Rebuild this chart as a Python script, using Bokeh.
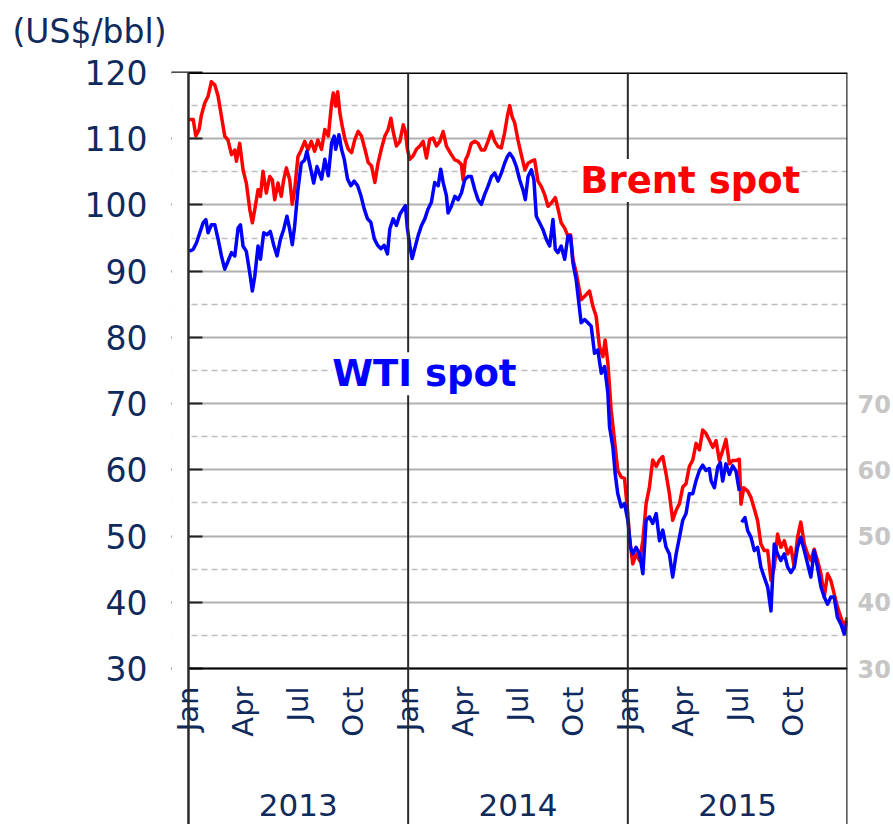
import math
from bokeh.plotting import figure
from bokeh.models import LinearAxis, FixedTicker, Span, Label, Range1d, BoxAnnotation
from bokeh.embed import file_html
from bokeh.resources import INLINE

# time in months since Jan 2013
brent_t = [0.04,0.26,0.40,0.58,0.71,0.89,1.07,1.25,1.44,1.62,1.80,1.98,2.16,2.35,2.53,2.62,2.80,2.98,3.16,3.35,3.49,3.62,3.80,3.93,4.07,4.25,4.44,4.58,4.71,4.89,5.07,5.20,5.35,5.53,5.67,5.80,5.98,6.16,6.35,6.53,6.71,6.89,7.07,
           7.27,7.45,7.64,7.82,7.91,8.04,8.15,8.27,8.40,8.55,8.73,8.91,9.09,9.27,9.45,9.64,9.82,10.0,10.18,10.36,10.55,10.73,10.91,11.06,11.18,11.36,11.55,11.73,11.85,11.96,12.09,12.27,12.45,12.64,12.82,13.0,13.18,13.36,13.55,13.73,13.91,14.09,
           14.36,14.55,14.73,14.91,15.0,15.13,15.27,15.45,15.64,15.82,16.0,16.18,16.36,16.55,16.73,16.91,17.09,17.27,17.42,17.55,17.67,17.82,18.0,18.18,18.38,18.55,18.73,18.91,19.09,19.27,19.45,19.64,19.82,20.04,20.18,20.36,20.55,20.73,20.87,21.0,21.18,
           21.45,21.64,21.91,22.09,22.27,22.45,22.64,22.76,22.91,23.09,23.27,23.45,23.64,23.82,24.0,24.09,24.27,24.45,24.64,24.82,25.0,25.18,25.36,25.55,25.73,25.91,26.09,26.27,26.45,26.64,26.82,27.0,27.18,27.36,27.55,27.73,27.91,28.09,28.27,28.45,
           28.64,28.82,29.0,29.18,29.36,29.55,29.73,29.91,30.09,30.18,30.33,30.55,30.73,30.91,31.09,31.27,31.45,31.64,31.82,32.0,32.18,32.36,32.55,32.73,32.91,33.09,33.27,33.45,33.64,33.82,34.0,34.18,34.36,34.55,34.73,34.91,35.09,35.27,35.45,35.64,35.82,35.98]
brent = [112.9,112.9,110.4,111.4,113.6,115.4,116.4,118.6,118.1,116.4,113.4,110.4,109.8,107.6,108.3,106.6,109.3,105.3,103.3,99.3,97.3,99.3,102.3,101.3,105.1,101.8,104.3,103.8,100.8,103.3,101.3,103.8,105.6,103.8,100.1,102.3,107.3,108.3,109.6,108.3,109.6,108.1,109.8,
         108.4,111.4,110.4,115.4,116.9,114.9,117.1,113.9,111.9,109.9,108.4,107.9,109.9,111.1,110.4,108.4,106.4,105.9,103.4,106.4,108.6,110.4,111.4,113.1,111.1,108.9,109.6,112.1,111.1,108.4,106.9,107.4,108.4,108.9,109.6,107.1,109.9,110.1,108.9,109.6,111.1,108.9,
         107.6,106.8,106.6,106.1,103.8,106.8,107.6,109.3,109.6,109.3,108.3,108.3,109.6,111.1,109.6,108.8,108.6,110.9,113.4,115.0,113.4,112.4,109.8,107.6,105.3,106.3,106.6,106.8,103.6,102.8,101.6,99.8,100.3,101.1,99.5,97.3,96.5,95.3,95.5,91.8,89.8,
         85.7,86.2,87.0,84.7,83.2,78.6,77.1,79.6,76.1,69.0,64.5,59.9,58.9,58.7,53.4,49.8,45.8,47.3,46.3,49.3,54.9,57.4,61.5,60.5,61.5,62.0,59.4,56.4,52.4,53.9,54.9,57.4,57.9,60.5,61.5,64.0,63.0,66.0,65.5,64.5,
         63.4,64.4,61.4,62.9,64.6,60.9,61.4,61.4,61.6,54.8,57.3,56.8,55.8,54.1,52.3,48.8,47.8,47.8,43.3,45.3,50.3,48.3,49.3,47.3,48.3,45.3,49.8,52.1,48.8,47.3,46.3,48.0,46.3,44.3,40.8,44.3,43.3,41.3,39.3,37.7,36.2,37.7]

wti_t = [0.04,0.26,0.44,0.62,0.80,0.95,1.07,1.25,1.44,1.62,1.80,1.98,2.16,2.35,2.53,2.71,2.84,2.98,3.16,3.35,3.49,3.62,3.80,3.93,4.11,4.29,4.47,4.65,4.84,5.02,5.20,5.38,5.53,5.67,5.80,5.98,6.16,6.35,6.47,6.65,6.84,7.02,
         7.27,7.45,7.64,7.82,7.96,8.04,8.22,8.36,8.51,8.69,8.87,9.05,9.24,9.42,9.60,9.78,9.96,10.15,10.33,10.51,10.69,10.87,11.0,11.18,11.36,11.55,11.73,11.85,11.96,12.09,12.22,12.36,12.55,12.73,12.91,13.09,13.27,13.45,13.64,13.78,13.91,14.09,
         14.18,14.36,14.55,14.73,14.91,15.09,15.27,15.45,15.64,15.82,16.0,16.18,16.36,16.55,16.73,16.91,17.09,17.27,17.42,17.55,17.73,17.91,18.09,18.27,18.40,18.55,18.73,18.87,19.0,19.18,19.36,19.55,19.73,19.91,20.04,20.18,20.36,20.55,20.73,20.87,21.0,21.18,
         21.45,21.64,21.82,22.0,22.18,22.36,22.55,22.73,22.91,23.0,23.18,23.31,23.45,23.64,23.82,24.0,24.15,24.27,24.45,24.64,24.82,25.0,25.18,25.36,25.55,25.73,25.91,26.09,26.27,26.45,26.64,26.82,27.0,27.18,27.36,27.55,27.73,27.91,28.09,28.27,28.45,
         28.55,28.73,28.91,29.05,29.18,29.36,29.55,29.73,29.91,30.09,30.15,30.22,30.40,30.55,30.73,30.91,31.09,31.27,31.45,31.64,31.82,32.0,32.18,32.36,32.55,32.73,32.91,33.09,33.27,33.45,33.64,33.82,34.0,34.18,34.36,34.55,34.73,34.91,35.09,35.27,35.45,35.64,35.82,35.98]
wti = [93.0,93.3,94.3,95.8,97.3,97.8,95.8,97.0,97.0,94.8,92.3,90.3,91.5,92.8,92.3,96.5,97.0,93.8,93.0,89.7,87.0,89.2,93.8,91.8,95.8,95.5,96.0,94.0,92.3,94.8,96.3,98.3,96.3,94.0,96.8,102.3,106.3,106.8,108.1,105.8,103.3,105.8,
       103.9,106.9,104.4,109.4,110.4,108.4,110.6,108.4,106.9,103.9,102.9,103.6,102.9,101.4,99.4,97.9,97.4,94.9,93.9,93.4,93.9,92.6,96.4,97.9,96.9,98.6,99.4,99.9,96.4,93.9,91.9,93.4,95.4,96.9,97.9,99.4,100.4,103.4,102.9,105.4,103.4,101.4,
       98.8,99.8,101.3,100.8,101.8,103.8,104.3,104.3,102.3,100.8,100.1,101.6,102.8,104.3,104.8,103.6,104.8,106.3,107.3,107.8,107.1,105.8,103.8,102.3,100.8,104.3,105.3,103.8,98.3,97.3,96.3,94.8,93.8,97.8,93.3,92.8,93.8,91.8,95.3,95.3,91.3,88.7,
       82.2,82.7,82.2,81.7,77.6,78.1,74.6,75.6,71.6,66.5,63.5,59.4,56.4,54.4,54.9,52.4,48.3,47.3,48.3,47.3,44.3,52.4,52.9,51.9,53.4,49.3,50.9,48.3,47.3,43.8,47.3,49.8,52.4,53.4,56.4,56.4,58.4,59.9,60.7,59.9,60.2,
       58.3,57.3,60.4,61.1,58.3,60.9,59.3,60.6,59.8,56.8,float("nan"),52.1,52.8,50.8,49.8,47.8,48.3,45.3,43.8,42.3,38.7,48.8,47.3,46.3,47.3,45.3,44.5,45.3,48.3,49.8,47.8,45.8,43.8,47.8,45.3,42.3,40.8,39.7,40.8,40.8,37.7,36.7,35.2,37.2]

y_ticks = [30, 40, 50, 60, 70, 80, 90, 100, 110, 120]
y_minor = [35, 45, 55, 65, 75, 85, 95, 105, 115]
right_ticks = [30, 40, 50, 60, 70]
month_ticks = [0, 3, 6, 9, 12, 15, 18, 21, 24, 27, 30, 33]
month_names = ["Jan", "Apr", "Jul", "Oct"] * 3
year_ticks = [6, 18, 30]
year_names = ["2013", "2014", "2015"]
year_bounds = [0, 12, 24, 36]
unit_text = "(US$/bbl)"

assert len(brent_t) == len(brent) and len(wti_t) == len(wti)

NAVY = "#0f2a5c"
FONT = "DejaVu Sans"
PAD = 17  # px of frame kept left of Jan 2013 so the first month label is not clipped
W, H = 893, 824
FRAME_TOP = 72
FRAME_LEFT = 188 - PAD

p = figure(width=W, height=H,
           x_range=Range1d(-PAD / (660 / 36), 36), y_range=Range1d(30 - 156 / (596 / 90), 120),
           output_backend="svg", toolbar_location=None, x_axis_type=None,
           min_border_left=FRAME_LEFT, min_border_right=45, min_border_top=FRAME_TOP, min_border_bottom=0)
p.outline_line_color = None
p.background_fill_color = "white"
p.border_fill_color = "white"

yax = p.yaxis[0]
yax.ticker = FixedTicker(ticks=y_ticks, minor_ticks=y_minor)
yax.axis_line_color = None
yax.major_tick_in = 14 + PAD
yax.major_tick_out = 0
yax.major_tick_line_color = "#222222"
yax.major_tick_line_width = 2
yax.minor_tick_in = 0
yax.minor_tick_out = 0
yax.major_label_standoff = 41 - PAD
yax.major_label_text_font = FONT
yax.major_label_text_font_size = "33px"
yax.major_label_text_color = NAVY

p.ygrid.grid_line_color = "#b0b0b0"
p.ygrid.grid_line_width = 2
p.ygrid.minor_grid_line_color = "#bdbdbd"
p.ygrid.minor_grid_line_width = 1.5
p.ygrid.minor_grid_line_dash = "6 4"

rax = LinearAxis(ticker=FixedTicker(ticks=right_ticks))
rax.axis_line_color = None
rax.major_tick_line_color = None
rax.major_tick_in = 0
rax.major_tick_out = 0
rax.minor_tick_line_color = None
rax.minor_tick_in = 0
rax.minor_tick_out = 0
rax.major_label_standoff = 10
rax.major_label_text_font = FONT
rax.major_label_text_font_size = "24px"
rax.major_label_text_font_style = "bold"
rax.major_label_text_color = "#c6c6c6"
p.add_layout(rax, "right")

max_ = LinearAxis(fixed_location=30, ticker=FixedTicker(ticks=month_ticks),
                  major_label_overrides={t: n for t, n in zip(month_ticks, month_names)})
max_.axis_line_color = None
max_.major_tick_line_color = None
max_.major_tick_out = 0
max_.minor_tick_line_color = None
max_.major_label_orientation = math.pi / 2
max_.major_label_standoff = 18
max_.major_label_text_font = FONT
max_.major_label_text_font_size = "29px"
max_.major_label_text_color = NAVY
p.add_layout(max_, "below")

yrax = LinearAxis(fixed_location=30, ticker=FixedTicker(ticks=year_ticks),
                  major_label_overrides={t: n for t, n in zip(year_ticks, year_names)})
yrax.axis_line_color = None
yrax.major_tick_line_color = None
yrax.major_tick_out = 0
yrax.minor_tick_line_color = None
yrax.major_label_standoff = 125
yrax.major_label_text_font = FONT
yrax.major_label_text_font_size = "31px"
yrax.major_label_text_color = NAVY
p.add_layout(yrax, "below")

p.add_layout(Span(location=120, dimension="width", line_color="black", line_width=3))
p.add_layout(Span(location=30, dimension="width", line_color="black", line_width=2))
# blank strip left of Jan 2013 inside the plotting area
p.add_layout(BoxAnnotation(right=0, bottom=29.4, fill_color="white", fill_alpha=1,
                           line_color=None))
for b in year_bounds:
    p.add_layout(Span(location=b, dimension="height", line_color="#2a2a2a",
                      line_width=2.5 if b in (0, 36) else 2))

p.line(brent_t, brent, line_color="#ff0000", line_width=3.5, line_join="round")
p.line(wti_t, wti, line_color="#0000ff", line_width=3.5, line_join="round")

p.add_layout(Label(x=21.4, y=103.7, text="Brent spot", text_font=FONT, text_font_size="37px",
                   text_font_style="bold", text_color="#ff0000", text_baseline="middle",
                   background_fill_color="white"))
p.add_layout(Label(x=7.85, y=74.5, text="WTI spot", text_font=FONT, text_font_size="37px",
                   text_font_style="bold", text_color="#0000ff", text_baseline="middle",
                   background_fill_color="white"))

# unit caption in the top border area (screen units from the panel's lower-left corner)
p.add_layout(Label(x=12 - FRAME_LEFT, y=FRAME_TOP - 31, x_units="screen", y_units="screen",
                   text=unit_text, text_font=FONT, text_font_size="33px",
                   text_color=NAVY, text_baseline="middle"), "above")

open("out.html", "w").write(file_html(p, INLINE))
